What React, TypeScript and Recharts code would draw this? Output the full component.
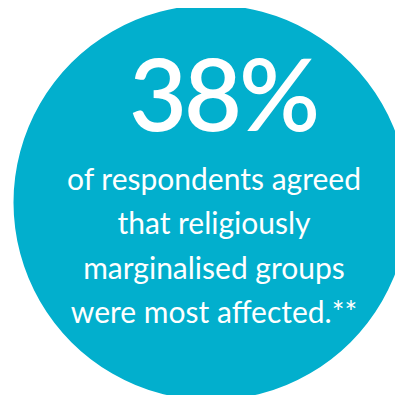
import { PieChart, Pie, Cell, Label } from 'recharts'

// single full circle carrying the headline figure
const slices = [{ name: 'respondents', value: 100 }]
const headline = '38%'
const captionLines = [
  'of respondents agreed',
  'that religiously',
  'marginalised groups',
  'were most affected.**',
]

const TEAL = '#02AFCD'

function StatText({ viewBox }: any) {
  const cx = viewBox?.cx ?? 211
  const cy = viewBox?.cy ?? 202
  return (
    <g fontFamily="Lato, sans-serif" fill="#ffffff" textAnchor="middle">
      <text x={cx + 12} y={cy - 71} fontSize={100} fontWeight={600} letterSpacing={-3}>
        {headline}
      </text>
      {captionLines.map((line, i) => (
        <text key={line} x={cx + 3} y={cy - 12 + i * 44.3} fontSize={30}>
          {line}
        </text>
      ))}
    </g>
  )
}

export default function App() {
  return (
    <div style={{ margin: -8, width: 403, height: 403, background: '#fff' }}>
      <PieChart width={403} height={403} margin={{ top: 0, right: 0, bottom: 0, left: 0 }}>
        <Pie
          data={slices}
          dataKey="value"
          cx={211}
          cy={202.5}
          innerRadius={0}
          outerRadius={197.5}
          startAngle={90}
          endAngle={-270}
          stroke="none"
          isAnimationActive={false}
        >
          {slices.map((s) => (
            <Cell key={s.name} fill={TEAL} />
          ))}
          <Label position="center" content={StatText} />
        </Pie>
      </PieChart>
    </div>
  )
}
